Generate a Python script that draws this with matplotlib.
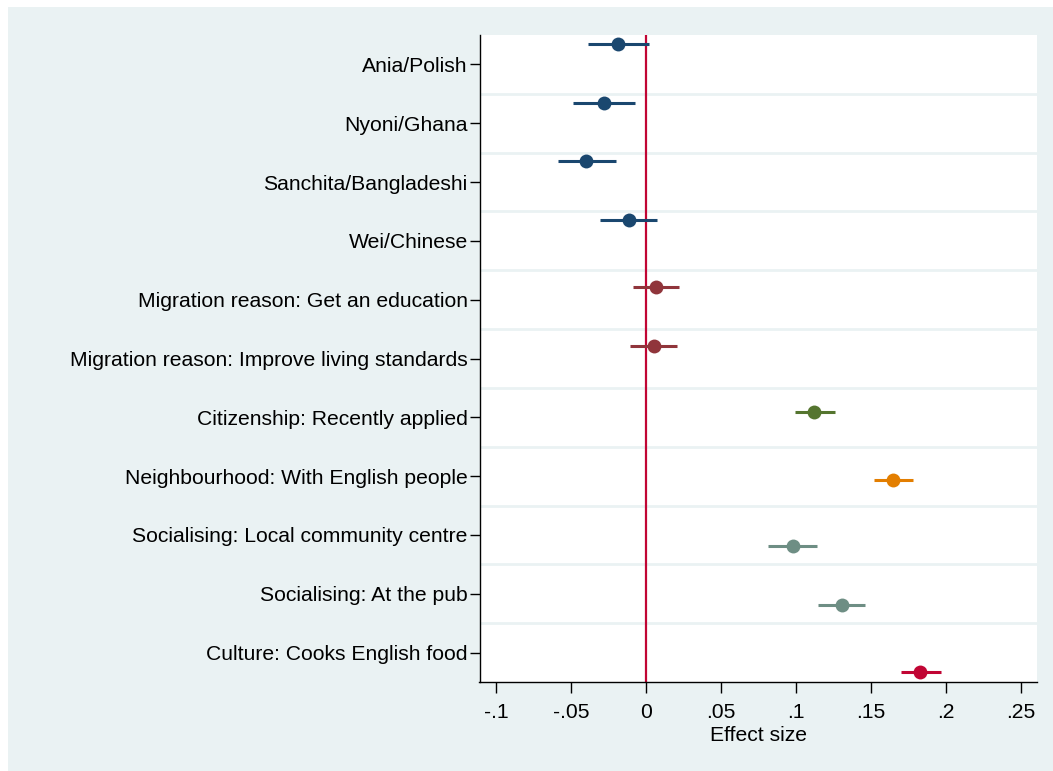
import matplotlib
matplotlib.use("Agg")
import matplotlib.pyplot as plt
from matplotlib.patches import Rectangle

# ---- data ----
categories = [
    "Ania/Polish",
    "Nyoni/Ghana",
    "Sanchita/Bangladeshi",
    "Wei/Chinese",
    "Migration reason: Get an education",
    "Migration reason: Improve living standards",
    "Citizenship: Recently applied",
    "Neighbourhood: With English people",
    "Socialising: Local community centre",
    "Socialising: At the pub",
    "Culture: Cooks English food",
]
# series index for each category (coefplot-style grouping)
series_of_cat = [0, 0, 0, 0, 1, 1, 2, 3, 4, 4, 5]
estimates = [-0.0188, -0.0281, -0.0397, -0.0116, 0.0066, 0.0053, 0.112, 0.1645, 0.0977, 0.1305, 0.1828]
ci_low = [-0.0388, -0.0484, -0.059, -0.031, -0.0087, -0.0105, 0.099, 0.1516, 0.0814, 0.1148, 0.1699]
ci_high = [0.0017, -0.0072, -0.0198, 0.0073, 0.022, 0.0206, 0.1258, 0.1779, 0.1138, 0.1458, 0.1963]
xtick_values = [-0.1, -0.05, 0, 0.05, 0.1, 0.15, 0.2, 0.25]
xtick_labels = ["-.1", "-.05", "0", ".05", ".1", ".15", ".2", ".25"]
xlabel = "Effect size"

# ---- style ----
series_colors = ["#1a476f", "#90353b", "#55752f", "#e37e00", "#6e8e84", "#c10534"]
series_offsets = [-0.35, -0.22, -0.085, 0.058, 0.195, 0.335]
bg = "#eaf2f3"

plt.rcParams["font.family"] = ["Liberation Sans", "DejaVu Sans"]

W, H = 1053, 771
fig = plt.figure(figsize=(W / 100, H / 100), dpi=100, facecolor="white")
fig.patches.append(Rectangle((8 / W, 0), 1 - 8 / W, (H - 7) / H,
                             transform=fig.transFigure, facecolor=bg,
                             edgecolor="none", zorder=-10))

left, right, top, bottom = 479.5, 1037, 35, 682
ax = fig.add_axes([left / W, 1 - bottom / H, (right - left) / W, (bottom - top) / H])
ax.set_zorder(1)
ax.set_facecolor("white")

n = len(categories)
ax.set_ylim(n - 0.5, -0.5)
ax.set_xlim(-0.111, 0.2605)

# gridlines between categories
for k in range(n - 1):
    ax.axhline(k + 0.5, color=bg, lw=2.0, zorder=1)

ax.axvline(0, color="#c10534", lw=1.6, zorder=2)

for i in range(n):
    s = series_of_cat[i]
    y = i + series_offsets[s]
    c = series_colors[s]
    ax.plot([ci_low[i], ci_high[i]], [y, y], color=c, lw=2.2, solid_capstyle="butt", zorder=3)
    ax.plot(estimates[i], y, "o", color=c, markersize=10, markeredgewidth=0, zorder=4)

ax.set_yticks(range(n))
ax.set_yticklabels(categories)
ax.set_xticks(xtick_values)
ax.set_xticklabels(xtick_labels)

for sp in ["top", "right"]:
    ax.spines[sp].set_visible(False)
for sp in ["left", "bottom"]:
    ax.spines[sp].set_linewidth(1.0)
    ax.spines[sp].set_color("black")

ax.tick_params(axis="y", length=7.5, width=1, pad=1, labelsize=15.2, colors="black")
ax.tick_params(axis="x", length=8, width=1, pad=7, labelsize=15.2, colors="black")
ax.set_xlabel(xlabel, fontsize=15.2, labelpad=3)

fig.savefig("out.png", dpi=100, facecolor="white")
